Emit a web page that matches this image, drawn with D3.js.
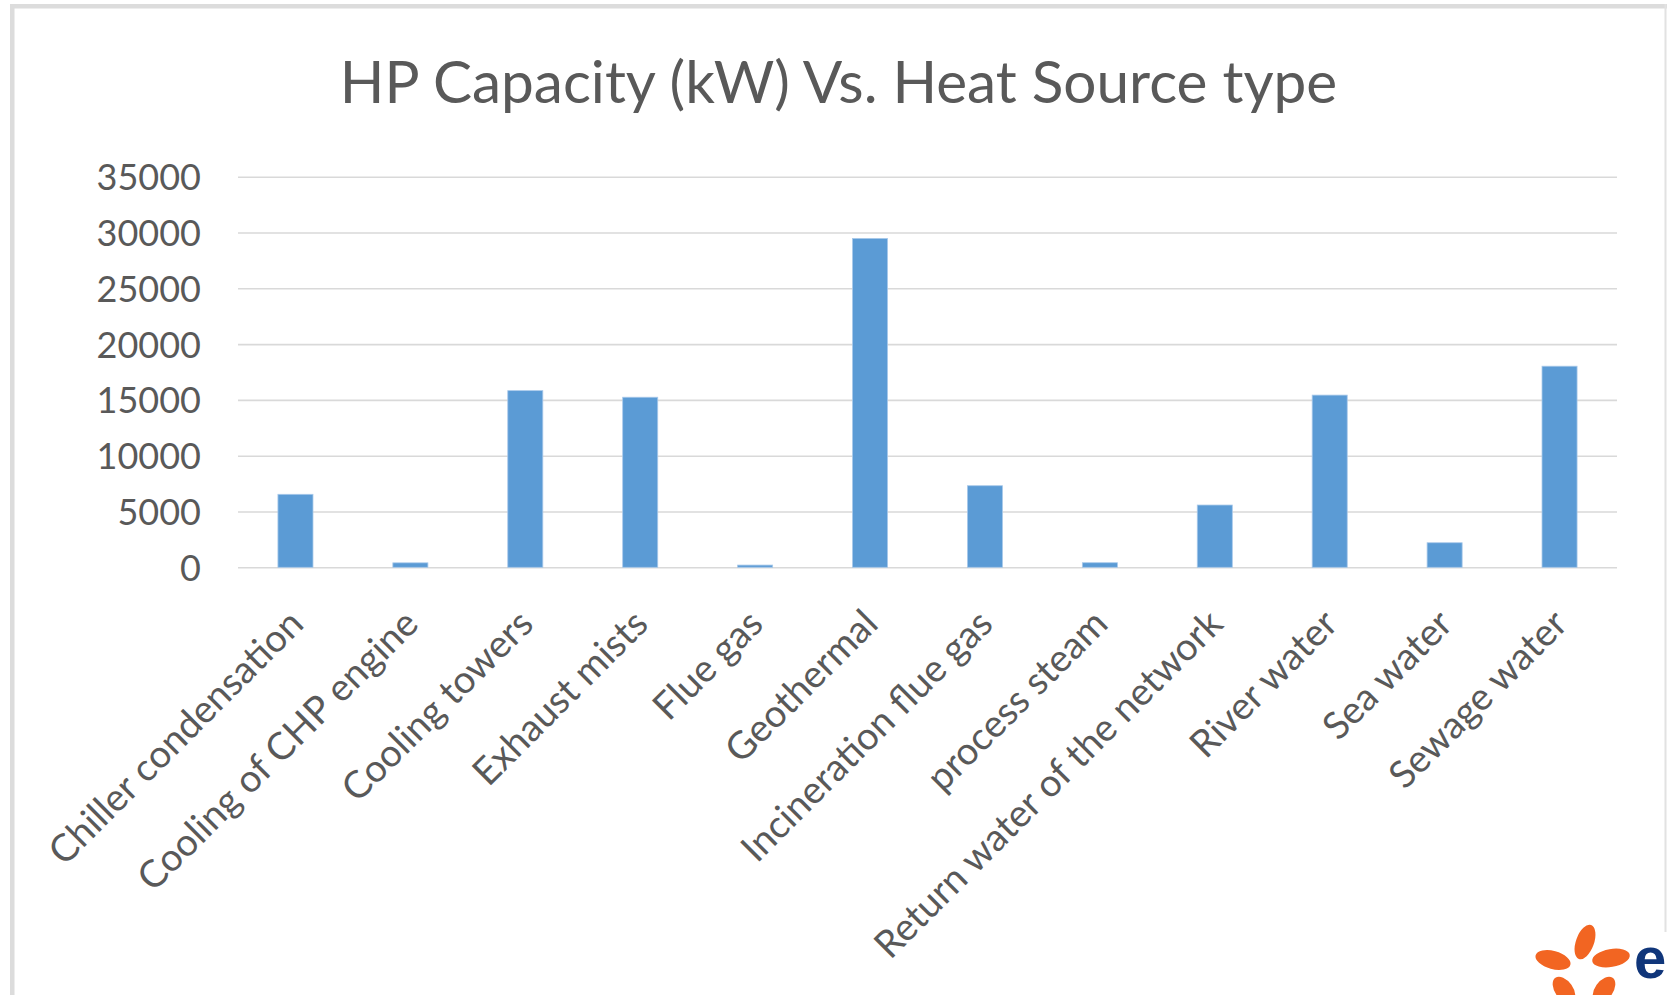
<!DOCTYPE html>
<html>
<head>
<meta charset="utf-8">
<script src="https://cdn.jsdelivr.net/npm/d3@7"></script>
<style>
  html, body { margin: 0; padding: 0; background: #ffffff; }
  svg { display: block; }
</style>
</head>
<body>
<svg id="chart" width="1667" height="995"></svg>
<script>
// ---- data ----
const categories = [
  "Chiller condensation",
  "Cooling of CHP engine",
  "Cooling towers",
  "Exhaust mists",
  "Flue gas",
  "Geothermal",
  "Incineration flue gas",
  "process steam",
  "Return water of the network",
  "River water",
  "Sea water",
  "Sewage water"
];
const capacityKW = [6540, 400, 15830, 15240, 200, 29470, 7310, 410, 5580, 15430, 2200, 18020];
const yTicks = [0, 5000, 10000, 15000, 20000, 25000, 30000, 35000];
const titleText = "HP Capacity (kW) Vs. Heat Source type";

// ---- layout ----
const svg = d3.select("#chart");
const W = 1667, H = 995;
const plot = { left: 238, right: 1617, top: 176.7, bottom: 567.3 };
const FONT = "Lato, 'Open Sans', sans-serif";

// frame
svg.append("rect").attr("x", 0).attr("y", 0).attr("width", W).attr("height", H).attr("fill", "#ffffff");
svg.append("rect").attr("x", 10).attr("y", 4).attr("width", W - 10).attr("height", 4.5).attr("fill", "#dcdcdc");
svg.append("rect").attr("x", 10).attr("y", 4).attr("width", 4.5).attr("height", H - 4).attr("fill", "#dcdcdc");
svg.append("rect").attr("x", 1664.5).attr("y", 4).attr("width", 2).attr("height", 928).attr("fill", "#e2e2e2");

// scales
const x = d3.scaleBand()
  .domain(categories)
  .range([plot.left, plot.right])
  .paddingInner(0.695)
  .paddingOuter(0.3475);
const y = d3.scaleLinear().domain([0, 35000]).range([plot.bottom, plot.top]);

// gridlines + tick labels
const yAxis = d3.axisLeft(y)
  .tickValues(yTicks)
  .tickSize(-(plot.right - plot.left))
  .tickPadding(37)
  .tickFormat(d3.format("d"));
const gy = svg.append("g")
  .attr("transform", `translate(${plot.left},0)`)
  .call(yAxis);
gy.select(".domain").remove();
gy.selectAll(".tick line").attr("stroke", "#d9d9d9").attr("stroke-width", 1.6);
gy.selectAll(".tick text")
  .attr("fill", "#595959")
  .attr("font-family", FONT)
  .attr("font-size", 36)
  .attr("dy", "0.36em");

// bars
svg.append("g").selectAll("rect")
  .data(categories.map((c, i) => ({ c, v: capacityKW[i] })))
  .join("rect")
  .attr("x", d => x(d.c))
  .attr("width", x.bandwidth())
  .attr("y", d => y(d.v))
  .attr("height", d => y(0) - y(d.v))
  .attr("fill", "#5b9bd5")
  .attr("stroke", "#a9c9ea")
  .attr("stroke-width", 0.8);

// category labels
svg.append("g").selectAll("text")
  .data(categories)
  .join("text")
  .attr("transform", d => `translate(${x(d) + x.bandwidth() / 2 + 10},${626}) rotate(-45)`)
  .attr("text-anchor", "end")
  .attr("fill", "#595959")
  .attr("font-family", FONT)
  .attr("font-size", 38)
  .text(d => d);

// title
svg.append("text")
  .attr("x", (340 + 1337) / 2)
  .attr("y", 103)
  .attr("text-anchor", "middle")
  .attr("fill", "#595959")
  .attr("font-family", FONT)
  .attr("font-size", 58.5)
  .text(titleText);

// logo (partial EDF mark, bottom right)
const petals = [
  { cx: 1585, cy: 942, rx: 9, ry: 18, a: 20 },
  { cx: 1553, cy: 960, rx: 18, ry: 9, a: 15 },
  { cx: 1611, cy: 958, rx: 19, ry: 9, a: -10 },
  { cx: 1564, cy: 990, rx: 9, ry: 15, a: -35 },
  { cx: 1604, cy: 990, rx: 9, ry: 15, a: 35 }
];
svg.append("g").selectAll("ellipse")
  .data(petals)
  .join("ellipse")
  .attr("cx", d => d.cx).attr("cy", d => d.cy)
  .attr("rx", d => d.rx).attr("ry", d => d.ry)
  .attr("transform", d => `rotate(${d.a},${d.cx},${d.cy})`)
  .attr("fill", "#f26522");
svg.append("text")
  .attr("x", 1634).attr("y", 978)
  .attr("fill", "#10367a")
  .attr("font-family", "'Liberation Sans', Arial, sans-serif")
  .attr("font-weight", "bold")
  .attr("font-size", 58)
  .text("e");
</script>
</body>
</html>
